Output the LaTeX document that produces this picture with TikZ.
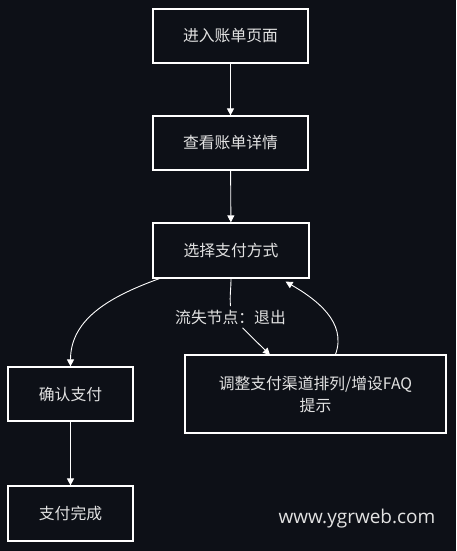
\documentclass[tikz,border=0pt]{standalone}
\usepackage{fontspec}
\setmainfont{Noto Sans CJK SC}
\newfontfamily\markfont{Open Sans}
\usetikzlibrary{positioning}
\usetikzlibrary{arrows.meta}
\definecolor{bgdark}{HTML}{0D1017}
\definecolor{textgrey}{HTML}{E2E2E2}

\begin{document}
\begin{tikzpicture}[x = 1pt, y = -1pt, font = \fontsize{15.8}{22}\selectfont,
		stepbox/.style = {draw = white, line width = 1.2pt, text = textgrey, minimum height = 54pt, inner sep = 0pt, align = center},
		flow/.style = {draw = white, line width = 0.9pt, -{Triangle[width = 7pt, length = 7pt]}}]
	\fill [bgdark] (0, 0) rectangle (456, 551);
	% main column
	\node [stepbox, minimum width = 155pt] (enter) at (230.5, 36) {进入账单页面};
	\node [stepbox, minimum width = 155pt] (detail) at (230.5, 143) {查看账单详情};
	\node [stepbox, minimum width = 156pt, minimum height = 55pt] (choose) at (231, 250.5) {选择支付方式};
	% left branch
	\node [stepbox, minimum width = 125pt] (confirm) at (70.5, 394) {确认支付};
	\node [stepbox, minimum width = 125pt, minimum height = 55pt] (done) at (70.5, 513.5) {支付完成};
	% loss branch
	\node [stepbox, minimum width = 261pt, minimum height = 78pt] (adjust) at (315.5, 394) {调整支付渠道排列/增设FAQ\\提示};
	\node [text = textgrey] (loss) at (230.5, 317) {流失节点：退出};
	\coordinate (adjin) at (270, 355);
	\draw [flow] (enter) -- (detail);
	\draw [flow] (detail) -- (choose);
	\draw [flow] (confirm) -- (done);
	\draw [flow] ([xshift = 7pt]choose.south west) to [out = 200, in = 90] (confirm.north);
	\draw [draw = white, line width = 0.9pt] (choose.south) to [out = -90, in = 95] (loss.north);
	\draw [flow] ([xshift = 12pt]loss.south) -- (adjin);
	\draw [flow] ([xshift = 20pt]adjust.north) to [out = 70, in = -30] ([xshift = -24pt, yshift = -3pt]choose.south east);
	\node [text = textgrey, font = \markfont\fontsize{19}{22}\selectfont] (mark) at (357, 519) {www.ygrweb.com};
\end{tikzpicture}
\end{document}
